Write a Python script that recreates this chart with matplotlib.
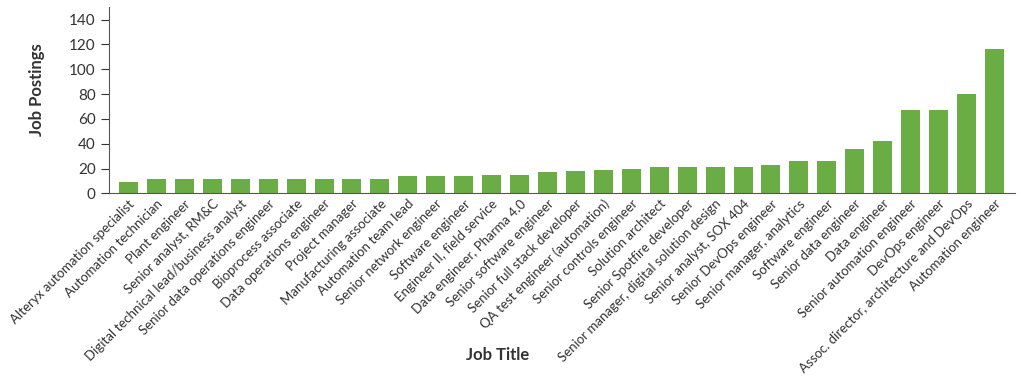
import matplotlib
matplotlib.use("Agg")
import matplotlib.pyplot as plt

# Job titles and their posting counts
job_titles = [
    "Alteryx automation specialist",
    "Automation technician",
    "Plant engineer",
    "Senior analyst, RM&C",
    "Digital technical lead/business analyst",
    "Senior data operations engineer",
    "Bioprocess associate",
    "Data operations engineer",
    "Project manager",
    "Manufacturing associate",
    "Automation team lead",
    "Senior network engineer",
    "Software engineer",
    "Engineer II, field service",
    "Data engineer, Pharma 4.0",
    "Senior software engineer",
    "Senior full stack developer",
    "QA test engineer (automation)",
    "Senior controls engineer",
    "Solution architect",
    "Senior Spotfire developer",
    "Senior manager, digital solution design",
    "Senior analyst, SOX 404",
    "Senior DevOps engineer",
    "Senior manager, analytics",
    "Software engineer",
    "Senior data engineer",
    "Data engineer",
    "Senior automation engineer",
    "DevOps engineer",
    "Assoc. director, architecture and DevOps",
    "Automation engineer",
]
postings = [9, 12, 12, 12, 12, 12, 12, 12, 12, 12, 14, 14, 14, 15, 15, 17,
            18, 19, 20, 21, 21, 21, 21, 23, 26, 26, 36, 42, 67, 67, 80, 116]
y_ticks = [0, 20, 40, 60, 80, 100, 120, 140]

plt.rcParams['font.family'] = ['Lato', 'DejaVu Sans']

fig = plt.figure(figsize=(10.24, 3.8), dpi=100)
ax = fig.add_axes([0.1064, 0.491, 0.8846, 0.49])

x = list(range(len(job_titles)))
ax.bar(x, postings, width=0.68, color="#6aad45")

ax.set_xlim(-0.7, len(job_titles) - 0.27)
ax.set_ylim(0, 150)
ax.set_yticks(y_ticks)
ax.tick_params(axis="y", labelsize=11, colors="#333333", length=6, width=0.8)
ax.tick_params(axis="x", length=0, pad=3)
ax.set_xticks(x)
ax.set_xticklabels(job_titles, rotation=45, ha="right", rotation_mode="anchor",
                   fontsize=9.5, color="#333333")

for side in ["top", "right"]:
    ax.spines[side].set_visible(False)
for side in ["left", "bottom"]:
    ax.spines[side].set_color("#555555")
    ax.spines[side].set_linewidth(0.8)

fig.text(37 / 1024, 1 - 90 / 380, "Job Postings", rotation=90, ha="center",
         va="center", fontsize=12, fontweight="bold", color="#333333")
fig.text(498 / 1024, 1 - 355 / 380, "Job Title", ha="center", va="center",
         fontsize=12, fontweight="bold", color="#333333")

fig.savefig("out.png", dpi=100)
